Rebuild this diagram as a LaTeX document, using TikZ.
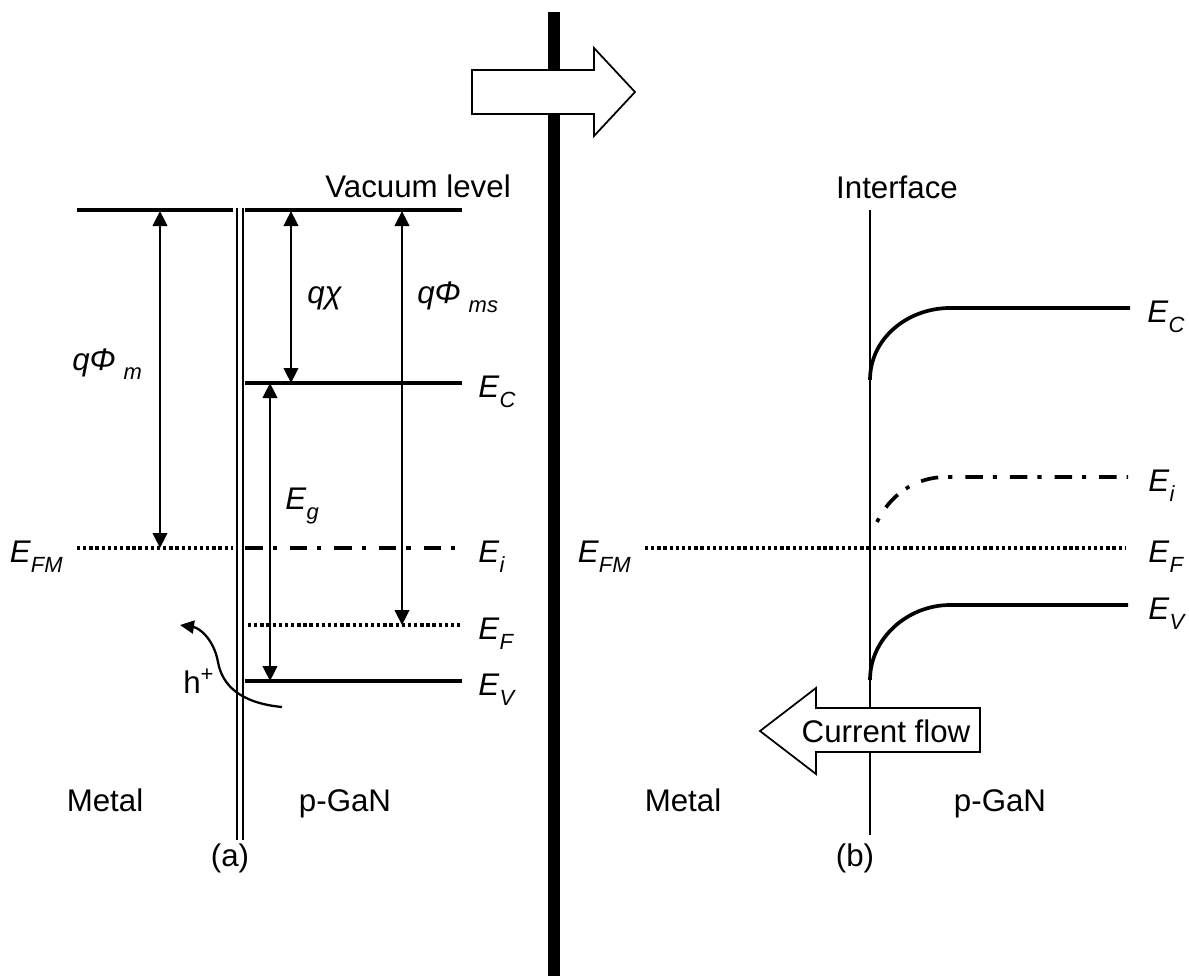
\documentclass[tikz,border=0pt]{standalone}
\usepackage{fontspec}
\setmainfont{Liberation Sans}
\usetikzlibrary{arrows.meta}
\newcommand{\subsz}{\fontsize{12.5pt}{14pt}\selectfont}
\newcommand{\lvl}[2]{\textit{#1}\raisebox{-0.32em}{\subsz\textit{#2}}}
\newcommand{\wfn}[2]{\textit{#1}\hspace{0.25em}\raisebox{-0.3em}{\subsz\textit{#2}}}

\begin{document}
\begin{tikzpicture}[x=0.02cm,y=-0.02cm,font=\fontsize{17.8pt}{21pt}\selectfont,
 lev/.style={line width=2.1pt},
 dotlev/.style={line width=2.1pt,dash pattern=on 1.9pt off 1.6pt},
 dashdot/.style={line width=2.1pt,dash pattern=on 10pt off 5.7pt on 2.3pt off 7.4pt},
 dim/.style={line width=1.4pt,{Triangle[length=3mm,width=2.9mm]}-{Triangle[length=3mm,width=2.9mm]}},
 wall/.style={line width=1.3pt},
 blockarr/.style={draw,fill=white,line width=1pt,line join=miter},
 lbl/.style={inner sep=0pt,anchor=base west},
 txt/.style={inner sep=0pt,anchor=base}]
\useasboundingbox (0,0) rectangle (1189,977);

% divider and "after contact" arrow
\fill (548,12) rectangle (560,976);
\draw[blockarr] (472,70) -- (594,70) -- (594,48) -- (635,92) -- (594,136) -- (594,114) -- (472,114) -- cycle;

% (a) before contact
\draw[lev] (77,210) -- (233,210);
\draw[lev] (245,210) -- (462,210);
\draw[wall] (237,208) -- (237,840);
\draw[wall] (243,208) -- (243,840);
\draw[lev] (245,383) -- (462,383);
\draw[dotlev] (77,548) -- (233,548);
\draw[dashdot] (245,548) -- (462,548);
\draw[dotlev] (248,625) -- (462,625);
\draw[lev] (245,681) -- (462,681);
\coordinate (phimT) at (160,211); \coordinate (phimB) at (160,548);
\coordinate (chiT) at (291,211); \coordinate (chiB) at (291,383);
\coordinate (phimsT) at (402,211); \coordinate (phimsB) at (402,625);
\coordinate (egT) at (270,383); \coordinate (egB) at (270,681);
\draw[dim] (phimT) -- (phimB);
\draw[dim] (chiT) -- (chiB);
\draw[dim] (phimsT) -- (phimsB);
\draw[dim] (egT) -- (egB);
\coordinate (holeS) at (282,707); \coordinate (holeE) at (180,625);
\draw[line width=1.3pt,-{Triangle[length=2.8mm,width=2.6mm]}] (holeS) .. controls (240,703) and (222,685) .. (218,662) .. controls (214,640) and (200,628) .. (holeE);

\node[lbl] (vac) at (325,197) {Vacuum level};
\node[lbl] (ecA) at (478,397) {\lvl{E}{C}};
\node[lbl] (eiA) at (478,562) {\lvl{E}{i}};
\node[lbl] (efA) at (478,639) {\lvl{E}{F}};
\node[lbl] (evA) at (478,695) {\lvl{E}{V}};
\node[lbl,anchor=base east] (efmA) at (63,562) {\lvl{E}{FM}};
\node[lbl] (phim) at (72,370) {\wfn{qΦ}{m}};
\node[lbl] (chi) at (307,303) {\textit{qχ}};
\node[lbl] (phims) at (417,303) {\wfn{qΦ}{ms}};
\node[lbl] (eg) at (285,509) {\lvl{E}{g}};
\node[lbl] (hole) at (183,693) {h\textsuperscript{+}};
\node[txt] (metalA) at (105,811) {Metal};
\node[txt] (ganA) at (345,811) {p-GaN};
\node[txt] (capA) at (230,866) {(a)};

% (b) after contact
\draw[wall] (870,210) -- (870,835);
\draw[lev] (870,380) .. controls (870,338) and (908,308) .. (950,308) -- (1130,308);
\draw[dashdot,dash phase=15.7pt] (877,522) .. controls (890,495) and (915,477) .. (946,477) -- (1128,477);
\draw[dotlev] (645,548) -- (1125,548);
\draw[lev] (870,680) .. controls (870,638) and (908,605) .. (950,605) -- (1128,605);
\draw[blockarr] (980,708) -- (816,708) -- (816,688) -- (760,731) -- (816,774) -- (816,752) -- (980,752) -- cycle;
\node[inner sep=0pt] (flow) at (886,731) {Current flow};

\node[txt] (iface) at (897,198) {Interface};
\node[lbl] (ecB) at (1147,322) {\lvl{E}{C}};
\node[lbl] (eiB) at (1148,491) {\lvl{E}{i}};
\node[lbl] (efB) at (1148,562) {\lvl{E}{F}};
\node[lbl] (evB) at (1148,619) {\lvl{E}{V}};
\node[lbl,anchor=base east] (efmB) at (631,562) {\lvl{E}{FM}};
\node[txt] (metalB) at (683,811) {Metal};
\node[txt] (ganB) at (1000,811) {p-GaN};
\node[txt] (capB) at (855,866) {(b)};
\end{tikzpicture}
\end{document}
